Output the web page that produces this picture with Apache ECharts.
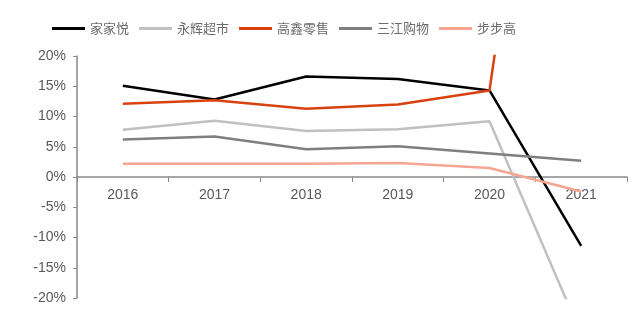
<!DOCTYPE html>
<html lang="zh">
<head>
    <meta charset="UTF-8">
    <title>折线图</title>
    <script src="https://cdn.jsdelivr.net/npm/echarts@6/dist/echarts.min.js"></script>
    <style>
        html, body { margin: 0; padding: 0; background: #fff; }
        #main { width: 640px; height: 321px; }
    </style>
</head>
<body>
<div id="main"></div>
<script>
    // 年份
    var years = ['2016', '2017', '2018', '2019', '2020', '2021'];
    // 各公司数据 (%)
    var jiajiayue = [15.1, 12.8, 16.6, 16.2, 14.3, -11.4];
    var yonghui = [7.8, 9.3, 7.6, 7.9, 9.2, -26];
    var gaoxin = [12.1, 12.7, 11.3, 12.0, 14.3, 119];
    var sanjiang = [6.2, 6.7, 4.6, 5.1, 3.9, 2.7];
    var bubugao = [2.2, 2.2, 2.2, 2.3, 1.5, -2.4];
    // y轴刻度
    var yMin = -20, yMax = 20, yStep = 5;

    var names = ['家家悦', '永辉超市', '高鑫零售', '三江购物', '步步高'];
    var colors = ['#000000', '#c0c0c0', '#d9420f', '#7f7f7f', '#f6a592'];
    var datas = [jiajiayue, yonghui, gaoxin, sanjiang, bubugao];

    var gridTop = 56, gridBottom = 23, H = 321;
    var plotH = H - gridTop - gridBottom;
    // x轴放在0位置：从底部往上挪
    var zeroOffset = -plotH * (0 - yMin) / (yMax - yMin);

    var myChart = echarts.init(document.getElementById('main'));
    var series = [];
    for (var i = 0; i < names.length; i++) {
        series.push({
            name: names[i],
            type: 'line',
            data: datas[i],
            showSymbol: false,
            clip: true,
            lineStyle: { color: colors[i], width: 2.5 },
            itemStyle: { color: colors[i] }
        });
    }

    var option = {
        animation: false,
        color: colors,
        legend: {
            data: names,
            left: 47,
            top: 17,
            icon: 'rect',
            itemWidth: 33,
            itemHeight: 3,
            itemGap: 10,
            textStyle: {
                color: '#6b6b6b',
                fontSize: 13,
                fontFamily: 'Noto Sans CJK SC'
            }
        },
        grid: {
            left: 77,
            right: 13,
            top: gridTop,
            bottom: gridBottom
        },
        xAxis: {
            type: 'category',
            data: years,
            boundaryGap: true,
            offset: zeroOffset,
            axisLine: { onZero: false, lineStyle: { color: '#898989', width: 1.5 } },
            axisTick: { show: true, alignWithLabel: false, length: 5, lineStyle: { color: '#898989' } },
            axisLabel: {
                color: '#595959',
                fontSize: 14,
                fontFamily: 'Liberation Sans',
                margin: 11
            }
        },
        yAxis: {
            type: 'value',
            min: yMin,
            max: yMax,
            interval: yStep,
            splitLine: { show: false },
            axisLine: { show: true, lineStyle: { color: '#898989', width: 1.5 } },
            axisTick: { show: true, length: 4, lineStyle: { color: '#898989' } },
            axisLabel: {
                color: '#595959',
                fontSize: 14,
                fontFamily: 'Liberation Sans',
                margin: 11,
                formatter: '{value}%'
            }
        },
        series: series
    };
    myChart.setOption(option);
</script>
</body>
</html>
